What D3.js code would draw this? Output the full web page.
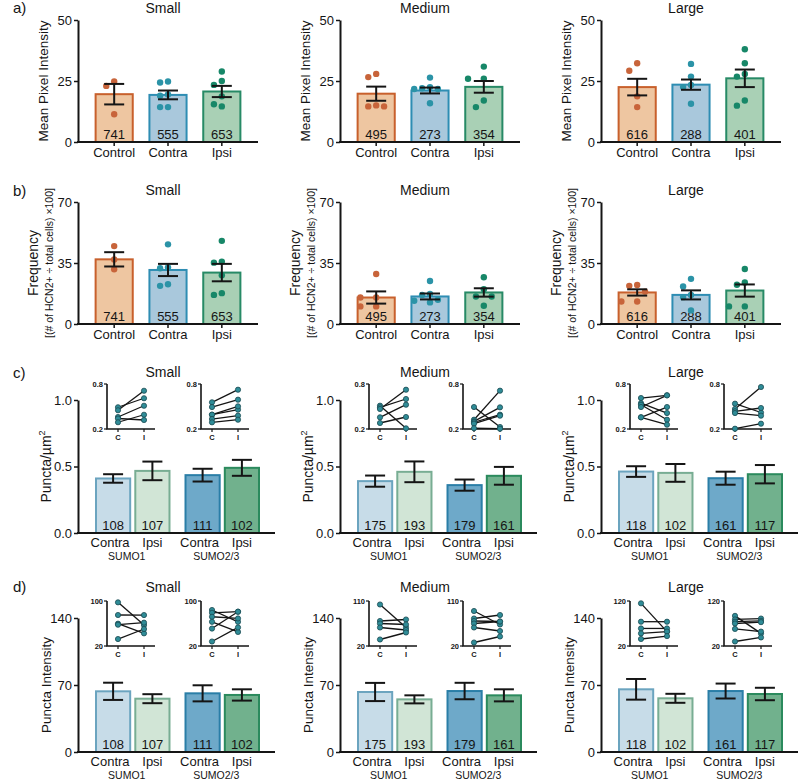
<!DOCTYPE html>
<html><head><meta charset="utf-8">
<script src="https://cdn.jsdelivr.net/npm/d3@7"></script>
<style>body{margin:0;background:#fff} svg{display:block}</style>
</head><body><svg id="c" width="800" height="783"></svg>
<script>
// ---------- DATA ----------
const sizes = ["Small", "Medium", "Large"];
const groupsAB = ["Control", "Contra", "Ipsi"];
const panelLetters = ["a)", "b)", "c)", "d)"];

// a) Mean pixel intensity
const pixTicks = [0, 25, 50];
const pixMean = [[19.6, 19.3, 20.7], [19.8, 21.1, 22.6], [22.5, 23.5, 26.1]];
const pixSem = [[4.2, 1.8, 2.3], [2.9, 1.2, 2.4], [3.4, 2.1, 3.6]];
const pixDots = [
  [[24.8, 23.0, 11.4], [24.4, 24.8, 19.5, 19.0, 14.3, 14.3], [28.9, 25.0, 23.4, 18.7, 14.6, 15.5]],
  [[27.9, 26.6, 14.6, 15.0, 14.6], [26.4, 22.5, 22.0, 21.7, 21.7, 15.9], [30.9, 25.9, 25.9, 17.0, 14.3]],
  [[32.3, 29.2, 18.7, 14.3], [32.0, 26.8, 23.4, 22.5, 15.7], [38.0, 32.3, 26.8, 27.9, 14.9, 17.0]]
];
// b) Frequency
const freqTicks = [0, 35, 70];
const freqMean = [[37.1, 31.0, 29.5], [15.2, 15.8, 18.1], [18.1, 16.7, 19.2]];
const freqSem = [[4.1, 3.5, 5.0], [3.5, 1.7, 2.4], [1.8, 2.6, 3.5]];
const freqDots = [
  [[44.7, 37.0, 31.4], [45.7, 32.5, 32.0, 22.8, 21.9], [47.7, 35.8, 35.2, 28.0, 16.7, 17.7]],
  [[28.7, 15.2, 15.2, 10.1, 10.1], [24.7, 17.3, 16.7, 13.9, 13.3, 12.4], [26.8, 20.0, 15.8, 15.8, 10.5]],
  [[22.4, 21.9, 18.6, 12.9, 12.9], [25.9, 21.5, 16.7, 15.4, 7.8], [31.6, 23.8, 22.5, 10.1, 10.1]]
];
const cellCountsAB = [[741, 555, 653], [495, 273, 354], [616, 288, 401]];

// c) / d) SUMO panels  (order: SUMO1 Contra, SUMO1 Ipsi, SUMO2/3 Contra, SUMO2/3 Ipsi)
const sumoGroups = ["SUMO1", "SUMO2/3"];
const sides = ["Contra", "Ipsi"];
const densTicks = [0, 0.5, 1.0];
const densMean = [[0.41, 0.467, 0.435, 0.49], [0.39, 0.46, 0.36, 0.43], [0.462, 0.452, 0.412, 0.442]];
const densSem = [[0.032, 0.07, 0.048, 0.06], [0.042, 0.078, 0.042, 0.067], [0.04, 0.067, 0.049, 0.069]];
const intTicks = [0, 70, 140];
const intMean = [[63.4, 55.7, 61.3, 59.6], [62.7, 55.0, 63.7, 59.2], [65.5, 56.1, 63.7, 60.6]];
const intSem = [[9.0, 4.7, 8.4, 5.9], [9.5, 4.2, 8.6, 6.3], [10.8, 4.7, 7.8, 6.5]];
const cellCountsCD = [[108, 107, 111, 102], [175, 193, 179, 161], [118, 102, 161, 117]];

// insets: paired per-animal values, contralateral (C) vs ipsilateral (I)
const densInsetDomain = [0.2, 0.8];
const densInsetC = [
  [[0.49, 0.45, 0.36, 0.34, 0.29], [0.556, 0.493, 0.391, 0.391, 0.333, 0.289]],
  [[0.511, 0.489, 0.467, 0.356, 0.28], [0.493, 0.324, 0.302, 0.29, 0.271, 0.21]],
  [[0.613, 0.545, 0.524, 0.493, 0.356, 0.356], [0.467, 0.538, 0.436, 0.413, 0.204]]
];
const densInsetI = [
  [[0.61, 0.71, 0.51, 0.32, 0.39], [0.724, 0.591, 0.458, 0.502, 0.378, 0.324]],
  [[0.209, 0.60, 0.724, 0.524, 0.36], [0.227, 0.711, 0.489, 0.391, 0.378, 0.204]],
  [[0.649, 0.413, 0.324, 0.649, 0.493, 0.258], [0.76, 0.42, 0.48, 0.378, 0.271]]
];
const intInsetDomains = [[20, 100], [20, 110], [20, 120]];
const intInsetC = [
  [[97.6, 75.1, 59.7, 57.9, 32.4], [84, 79, 72, 63, 51, 28]],
  [[103, 70, 65, 57, 33], [90, 75, 70, 65, 57, 27]],
  [[114.8, 74, 59, 48, 35.6], [87, 79, 74, 70, 58, 30]]
];
const intInsetI = [
  [[57.3, 75, 42.5, 61.5, 50.2], [63, 81, 69, 45, 81, 53]],
  [[57, 73, 63, 52, 47], [63, 82, 69, 69, 50, 39]],
  [[52, 74, 59, 52, 42], [48, 81, 76, 73, 52, 39]]
];

// ---------- STYLE / LAYOUT ----------
const FONT = '"Liberation Sans", Arial, Helvetica, sans-serif';
const INK = "#151515";
const X0s = [78, 340, 601];
const abColors = [
  { fill: "#eec6a1", stroke: "#c8602c", dot: "#c8643a" },
  { fill: "#a9c8dc", stroke: "#2e8db3", dot: "#2b93a7" },
  { fill: "#a9d0b5", stroke: "#278a66", dot: "#178768" }];
const cdColors = [
  { fill: "#c7dce8", stroke: "#6ba4bf" },
  { fill: "#d1e5d6", stroke: "#78ad93" },
  { fill: "#6ea9c9", stroke: "#2a7ea7" },
  { fill: "#71b18d", stroke: "#2b8a5d" }];

const svg = d3.select("#c").attr("font-family", FONT);

function txt(g, x, y, s, size, anchor, extra) {
  const t = g.append("text").attr("x", x).attr("y", y).attr("font-size", size)
    .attr("text-anchor", anchor || "middle").attr("fill", INK).text(s);
  if (extra) extra(t);
  return t;
}

function yAxis(g, X0, scale, ticks, fmt, fs) {
  const ax = g.append("g").attr("transform", `translate(${X0},0)`)
    .call(d3.axisLeft(scale).tickValues(ticks).tickSize(4).tickSizeOuter(0).tickPadding(2).tickFormat(fmt));
  ax.select(".domain").attr("stroke", INK).attr("stroke-width", 2);
  ax.selectAll(".tick line").attr("stroke", INK).attr("stroke-width", 1.5);
  ax.selectAll(".tick text").attr("fill", INK).attr("font-size", fs).attr("font-family", FONT);
  return ax;
}

function errorBar(g, cx, scale, m, s, cap) {
  const y1 = scale(m + s), y2 = scale(m - s);
  g.append("line").attr("x1", cx).attr("x2", cx).attr("y1", y1).attr("y2", y2)
    .attr("stroke", INK).attr("stroke-width", 2);
  [y1, y2].forEach(yy => g.append("line").attr("x1", cx - cap / 2).attr("x2", cx + cap / 2)
    .attr("y1", yy).attr("y2", yy).attr("stroke", INK).attr("stroke-width", 2));
}

// simple beeswarm placement of dots around a centre
function swarm(vals, scale, cx, r) {
  const placed = [];
  const order = vals.map((v, i) => i).sort((a, b) => vals[b] - vals[a]);
  const step = 2 * r + 1.5;
  order.forEach(i => {
    const yy = scale(vals[i]);
    for (let k = 0; k < 12; k++) {
      const off = k === 0 ? 0 : Math.ceil(k / 2) * step * (k % 2 ? -1 : 1);
      const xx = cx + off;
      if (!placed.some(p => (p.x - xx) ** 2 + (p.y - yy) ** 2 < step * step)) {
        placed.push({ x: xx, y: yy }); break;
      }
    }
  });
  return placed;
}

function panelAB(si, yTop, yBot, ticks, means, sems, dots, counts, ylab) {
  const X0 = X0s[si];
  const g = svg.append("g");
  const y = d3.scaleLinear().domain([0, ticks[2]]).range([yBot, yTop]);
  const x = d3.scaleBand().domain(groupsAB).range([X0 + 9, X0 + 171]).paddingInner(0.31).paddingOuter(0.16);
  const bw = x.bandwidth();
  groupsAB.forEach((grp, i) => {
    const c = abColors[i];
    g.append("rect").attr("x", x(grp)).attr("width", bw).attr("y", y(means[i]))
      .attr("height", yBot - y(means[i])).attr("fill", c.fill).attr("stroke", c.stroke).attr("stroke-width", 2);
    txt(g, x(grp) + bw / 2, yBot - 3, counts[i], 13);
    swarm(dots[i], y, x(grp) + bw / 2, 3.2).forEach(p =>
      g.append("circle").attr("cx", p.x).attr("cy", p.y).attr("r", 3.2).attr("fill", c.dot));
    errorBar(g, x(grp) + bw / 2, y, means[i], sems[i], 20);
  });
  yAxis(g, X0, y, ticks, d3.format("d"), 13);
  g.append("line").attr("x1", X0 - 1).attr("x2", X0 + 180).attr("y1", yBot).attr("y2", yBot)
    .attr("stroke", INK).attr("stroke-width", 2);
  groupsAB.forEach(grp => {
    const cx = x(grp) + bw / 2;
    g.append("line").attr("x1", cx).attr("x2", cx).attr("y1", yBot).attr("y2", yBot + 4)
      .attr("stroke", INK).attr("stroke-width", 1.5);
    txt(g, cx, yBot + 15, grp, 13);
  });
  txt(g, X0 + 85, yTop - 7, sizes[si], 14);
  ylab(g, X0, (yTop + yBot) / 2);
}

function inset(g, ix, iyTop, iyBot, domain, fmt, cVals, iVals) {
  const y = d3.scaleLinear().domain(domain).range([iyBot, iyTop]);
  const x = d3.scalePoint().domain(["C", "I"]).range([ix + 11, ix + 37]);
  g.append("path").attr("d", `M${ix},${iyTop}V${iyBot}H${ix + 48}`).attr("fill", "none")
    .attr("stroke", INK).attr("stroke-width", 1.6);
  domain.forEach(v => {
    g.append("line").attr("x1", ix - 3).attr("x2", ix).attr("y1", y(v)).attr("y2", y(v)).attr("stroke", INK).attr("stroke-width", 1.2);
    txt(g, ix - 4, y(v) + 2.5, fmt(v), 7.5, "end", t => t.attr("font-weight", "bold"));
  });
  ["C", "I"].forEach(k => {
    g.append("line").attr("x1", x(k)).attr("x2", x(k)).attr("y1", iyBot).attr("y2", iyBot + 3).attr("stroke", INK).attr("stroke-width", 1.2);
    txt(g, x(k), iyBot + 11, k, 7.5, "middle", t => t.attr("font-weight", "bold"));
  });
  cVals.forEach((c, i) => g.append("line").attr("x1", x("C")).attr("x2", x("I"))
    .attr("y1", y(c)).attr("y2", y(iVals[i])).attr("stroke", INK).attr("stroke-width", 1.3));
  cVals.forEach((c, i) => {
    [["C", c], ["I", iVals[i]]].forEach(([k, v]) =>
      g.append("circle").attr("cx", x(k)).attr("cy", y(v)).attr("r", 2.6)
        .attr("fill", "#2f8c97").attr("stroke", "#1b4a52").attr("stroke-width", 0.8));
  });
}

function panelCD(si, yTop, yBot, ticks, fmt, means, sems, counts, iyTop, iyBot, iDomain, iFmt, iC, iI, ylab) {
  const X0 = X0s[si];
  const g = svg.append("g");
  const y = d3.scaleLinear().domain([0, ticks[2]]).range([yBot, yTop]);
  const xg = d3.scaleBand().domain(sumoGroups).range([X0 + 18, X0 + 181]).paddingInner(0.179);
  const xs = d3.scaleBand().domain(sides).range([0, xg.bandwidth()]).paddingInner(0.13);
  const bw = xs.bandwidth();
  sumoGroups.forEach((sg, gi) => {
    sides.forEach((sd, j) => {
      const k = gi * 2 + j, c = cdColors[k];
      const bx = xg(sg) + xs(sd);
      g.append("rect").attr("x", bx).attr("width", bw).attr("y", y(means[k]))
        .attr("height", yBot - y(means[k])).attr("fill", c.fill).attr("stroke", c.stroke).attr("stroke-width", 2);
      txt(g, bx + bw / 2, yBot - 3, counts[k], 13);
      errorBar(g, bx + bw / 2, y, means[k], sems[k], 20);
      txt(g, bx + bw / 2 - (j === 0 ? 3 : 0), yBot + 14, sd, 13);
    });
    txt(g, xg(sg) + xg.bandwidth() / 2 - 6, yBot + 27, sg, 10.5);
  });
  yAxis(g, X0, y, ticks, fmt, 13);
  g.append("line").attr("x1", X0 - 1).attr("x2", X0 + 197).attr("y1", yBot).attr("y2", yBot)
    .attr("stroke", INK).attr("stroke-width", 2);
  [X0 + 29, X0 + 123].forEach((ix, gi) => inset(g, ix, iyTop, iyBot, iDomain, iFmt, iC[gi], iI[gi]));
  ylab(g, X0, (yTop + yBot) / 2);
}

// ---------- DRAW ----------
const rowLabelY = [13, 196, 378, 592];
panelLetters.forEach((l, i) => txt(svg, 13, rowLabelY[i], l, 15, "start"));

sizes.forEach((s, si) => {
  // a)
  panelAB(si, 20, 142, pixTicks, pixMean[si], pixSem[si], pixDots[si], cellCountsAB[si],
    (g, X0, cy) => txt(g, 0, 0, "Mean Pixel Intensity", 13.5, "middle",
      t => t.attr("transform", `translate(${X0 - 30},${cy}) rotate(-90)`)));
  // b)
  panelAB(si, 202, 324, freqTicks, freqMean[si], freqSem[si], freqDots[si], cellCountsAB[si],
    (g, X0, cy) => {
      txt(g, 0, 0, "Frequency", 14, "middle", t => t.attr("transform", `translate(${X0 - 40},${cy}) rotate(-90)`));
      txt(g, 0, 0, "[(# of HCN2+ ÷ total cells) ×100]", 10.5, "middle",
        t => t.attr("transform", `translate(${X0 - 25},${cy}) rotate(-90)`));
    });
  // c)
  panelCD(si, 400, 533, densTicks, d3.format(".1f"), densMean[si], densSem[si], cellCountsCD[si],
    384, 429, densInsetDomain, d3.format(".1f"), densInsetC[si], densInsetI[si],
    (g, X0, cy) => txt(g, 0, 0, "Puncta/µm", 14, "middle", t => {
      t.attr("transform", `translate(${X0 - 27},${cy}) rotate(-90)`);
      t.append("tspan").attr("dy", -6).attr("font-size", 9).text("2");
    }));
  // d)
  panelCD(si, 618, 752, intTicks, d3.format("d"), intMean[si], intSem[si], cellCountsCD[si],
    601, 646, intInsetDomains[si], d3.format("d"), intInsetC[si], intInsetI[si],
    (g, X0, cy) => txt(g, 0, 0, "Puncta Intensity", 13.5, "middle",
      t => t.attr("transform", `translate(${X0 - 27},${cy}) rotate(-90)`)));
});
// titles for c) and d) rows
sizes.forEach((s, si) => {
  txt(svg, X0s[si] + 85, 377, s, 14);
  txt(svg, X0s[si] + 85, 592, s, 14);
});
</script>
</body></html>
